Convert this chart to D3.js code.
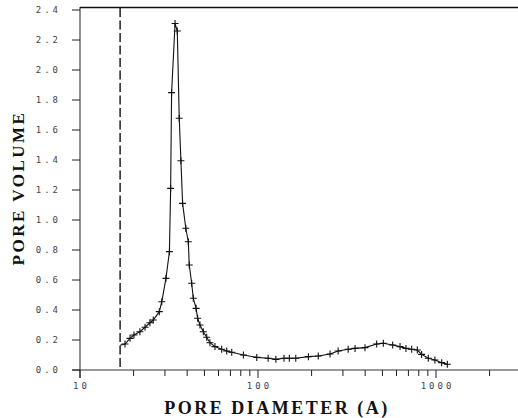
<!DOCTYPE html>
<html>
<head>
<meta charset="utf-8">
<script src="https://cdn.jsdelivr.net/npm/d3@7"></script>
<style>
  body { margin: 0; background: #fff; }
  #chart { width: 518px; height: 418px; }
</style>
</head>
<body>
<div id="chart"></div>
<script>
// pore diameter (A) and pore volume
const diameters = [16.8, 17.9, 19.1, 20.1, 21.7, 23.2, 24.7, 25.8, 27.9, 28.8, 30.4, 31.8,
  32.3, 32.7, 34.2, 35.2, 36.1, 36.9, 37.7, 39.3, 40.6, 41.1, 42.4, 43.3, 44.9, 45.8, 47.2,
  49.3, 51.5, 53.7, 57.3, 62.5, 66.7, 71.2, 82.8, 98.4, 114, 126, 140, 150, 163, 192, 218,
  254, 282, 321, 351, 399, 464, 506, 571, 628, 678, 730, 785, 830, 905, 986, 1076, 1158];
const volumes = [0.165, 0.173, 0.211, 0.233, 0.255, 0.285, 0.315, 0.333, 0.389, 0.455, 0.611, 0.789,
  1.211, 1.849, 2.31, 2.26, 1.678, 1.395, 1.111, 0.945, 0.855, 0.70, 0.578, 0.478, 0.411, 0.345, 0.30,
  0.255, 0.218, 0.182, 0.156, 0.138, 0.127, 0.118, 0.10, 0.084, 0.078, 0.071, 0.078, 0.078, 0.078, 0.089, 0.093,
  0.107, 0.127, 0.138, 0.144, 0.149, 0.173, 0.178, 0.167, 0.156, 0.144, 0.138, 0.133, 0.104, 0.078, 0.067, 0.049, 0.038];

const yTicks = [0, 0.2, 0.4, 0.6, 0.8, 1.0, 1.2, 1.4, 1.6, 1.8, 2.0, 2.2, 2.4];
const xMajorTicks = [10, 100, 1000];
const xMinorTicks = [20, 30, 40, 50, 60, 70, 80, 90, 200, 300, 400, 500, 600, 700, 800, 900, 2000];
const cutoffDiameter = 16.8;

const width = 518, height = 418;
const margin = { top: 10, left: 80, bottom: 48 };
const decade = 178;

const svg = d3.select("#chart").append("svg")
  .attr("width", width)
  .attr("height", height);

const xScale = d3.scaleLog()
  .domain([10, 3000])
  .range([margin.left, margin.left + decade * Math.log10(300)]);

const yScale = d3.scaleLinear()
  .domain([0, 2.4])
  .range([height - margin.bottom, margin.top]);

const y0 = yScale(0);
const tickFont = "'DejaVu Sans Mono', monospace";

// frame: left axis, top line, bottom axis
svg.append("line")
  .attr("x1", margin.left).attr("x2", margin.left)
  .attr("y1", 7).attr("y2", y0 + 8)
  .attr("stroke", "#222").attr("stroke-width", 1);

svg.append("line")
  .attr("x1", margin.left).attr("x2", width)
  .attr("y1", 7.5).attr("y2", 7.5)
  .attr("stroke", "#111").attr("stroke-width", 1.5);

svg.append("line")
  .attr("x1", margin.left - 8).attr("x2", width)
  .attr("y1", y0).attr("y2", y0)
  .attr("stroke", "#333").attr("stroke-width", 1.2);

// y ticks
svg.selectAll(".y-tick")
  .data(yTicks)
  .join("line")
  .attr("class", "y-tick")
  .attr("x1", margin.left - 8).attr("x2", margin.left)
  .attr("y1", (d) => yScale(d)).attr("y2", (d) => yScale(d))
  .attr("stroke", "#222");

svg.selectAll(".y-label")
  .data(yTicks)
  .join("text")
  .attr("class", "y-label")
  .attr("x", 61)
  .attr("y", (d) => yScale(d) + 3)
  .attr("text-anchor", "end")
  .style("font-family", tickFont)
  .style("font-size", "9px")
  .style("letter-spacing", "3px")
  .attr("fill", "#444")
  .text((d) => d.toFixed(1));

// x ticks
svg.selectAll(".x-major")
  .data(xMajorTicks)
  .join("line")
  .attr("class", "x-major")
  .attr("x1", (d) => xScale(d)).attr("x2", (d) => xScale(d))
  .attr("y1", y0).attr("y2", y0 + 8)
  .attr("stroke", "#222");

svg.selectAll(".x-minor")
  .data(xMinorTicks)
  .join("line")
  .attr("class", "x-minor")
  .attr("x1", (d) => xScale(d)).attr("x2", (d) => xScale(d))
  .attr("y1", y0).attr("y2", y0 + 6)
  .attr("stroke", "#222");

svg.selectAll(".x-label")
  .data(xMajorTicks)
  .join("text")
  .attr("class", "x-label")
  .attr("x", (d) => xScale(d) + 1.5)
  .attr("y", y0 + 19)
  .attr("text-anchor", "middle")
  .style("font-family", tickFont)
  .style("font-size", "9px")
  .style("letter-spacing", "3px")
  .attr("fill", "#444")
  .text((d) => d);

// dashed cutoff line
svg.append("line")
  .attr("x1", xScale(cutoffDiameter)).attr("x2", xScale(cutoffDiameter))
  .attr("y1", 8).attr("y2", y0)
  .attr("stroke", "#111")
  .attr("stroke-width", 1.4)
  .attr("stroke-dasharray", "9,3.5");

// curve
const points = diameters.map((d, i) => ({ x: d, y: volumes[i] }));

const line = d3.line()
  .x((d) => xScale(d.x))
  .y((d) => yScale(d.y));

svg.append("path")
  .datum(points)
  .attr("d", line)
  .attr("fill", "none")
  .attr("stroke", "#111")
  .attr("stroke-width", 1.1);

svg.selectAll(".marker")
  .data(points.slice(1))
  .join("path")
  .attr("class", "marker")
  .attr("d", (d) => {
    const cx = xScale(d.x), cy = yScale(d.y), r = 3.5;
    return `M${cx - r},${cy}H${cx + r}M${cx},${cy - r}V${cy + r}`;
  })
  .attr("stroke", "#111")
  .attr("stroke-width", 1.1);

// axis titles
svg.append("text")
  .attr("transform", `translate(24,${yScale(1.2) - 2}) rotate(-90)`)
  .attr("text-anchor", "middle")
  .style("font-family", "'Liberation Serif', serif")
  .style("font-weight", "bold")
  .style("font-size", "17px")
  .style("letter-spacing", "2.5px")
  .attr("fill", "#111")
  .text("PORE VOLUME");

svg.append("text")
  .attr("x", 277)
  .attr("y", 414)
  .attr("text-anchor", "middle")
  .style("font-family", "'Liberation Serif', serif")
  .style("font-weight", "bold")
  .style("font-size", "18px")
  .style("letter-spacing", "2.5px")
  .attr("fill", "#111")
  .text("PORE DIAMETER (A)");
</script>
</body>
</html>
